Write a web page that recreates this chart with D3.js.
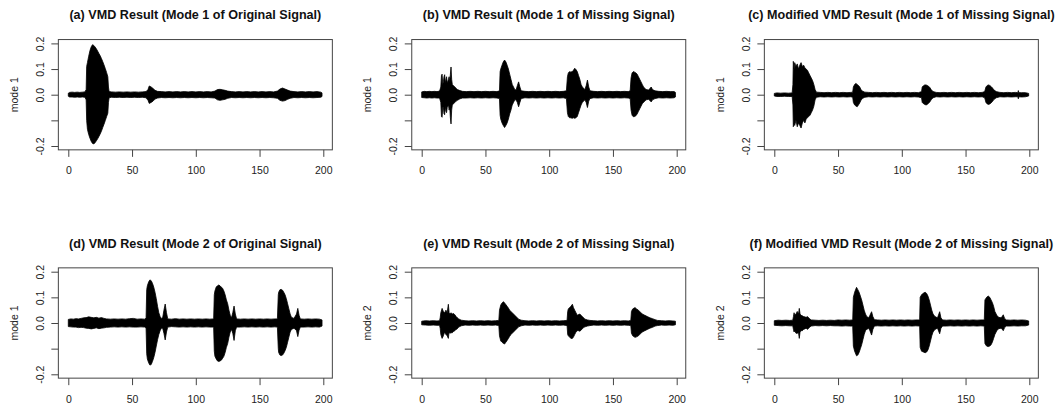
<!DOCTYPE html>
<html>
<head>
<meta charset="utf-8">
<script src="https://cdn.jsdelivr.net/npm/d3@7"></script>
<style>
  body { margin: 0; background: #fff; }
  text { font-family: "Liberation Sans", Arial, sans-serif; }
</style>
</head>
<body>
<div class="vmd-plot"></div>
<script>
const titles = [
  '(a) VMD Result (Mode 1 of Original Signal)',
  '(b) VMD Result (Mode 1 of Missing Signal)',
  '(c) Modified VMD Result (Mode 1 of Missing Signal)',
  '(d) VMD Result (Mode 2 of Original Signal)',
  '(e) VMD Result (Mode 2 of Missing Signal)',
  '(f) Modified VMD Result (Mode 2 of Missing Signal)'
];
const yLabels = ['mode 1', 'mode 1', 'mode 1', 'mode 1', 'mode 2', 'mode 2'];
const xTicks = [0, 50, 100, 150, 200];
const yTicks = [-0.2, -0.1, 0, 0.1, 0.2];
const yTickLabels = ['-0.2', '', '0.0', '0.1', '0.2'];

// envelope of each mode: [time, upper, lower]
const sigA = [[0,.006,-.006],[1,.009,-.009],[3,.010,-.009],[5,.009,-.010],[7,.010,-.009],[9,.009,-.010],[11,.010,-.009],[13,.011,-.010],[14,.02,-.02],[14.4,.11,-.10],[15,.125,-.135],[16,.15,-.155],[17,.172,-.17],[18,.187,-.182],[19,.195,-.19],[20,.192,-.192],[21,.186,-.187],[22,.179,-.18],[23,.17,-.172],[24,.161,-.163],[25,.152,-.153],[26,.141,-.142],[27,.129,-.128],[28,.116,-.115],[29,.102,-.101],[30,.087,-.086],[31,.07,-.072],[31.5,.03,-.03],[32,.012,-.012],[34,.011,-.010],[37,.010,-.011],[40,.011,-.010],[43,.010,-.011],[46,.011,-.010],[49,.010,-.011],[52,.011,-.010],[55,.010,-.011],[58,.011,-.010],[61,.012,-.012],[62.5,.02,-.022],[63.5,.034,-.034],[65,.03,-.03],[66.5,.024,-.025],[68,.017,-.017],[70,.013,-.013],[73,.012,-.011],[76,.011,-.012],[79,.012,-.011],[82,.011,-.012],[85,.012,-.011],[88,.011,-.012],[91,.012,-.011],[94,.011,-.012],[97,.012,-.011],[100,.011,-.012],[103,.012,-.011],[106,.011,-.012],[109,.012,-.011],[112,.011,-.012],[115,.014,-.013],[117,.02,-.02],[119,.021,-.022],[121,.019,-.02],[123,.017,-.018],[125,.014,-.014],[128,.012,-.011],[131,.011,-.012],[134,.012,-.011],[137,.011,-.012],[140,.012,-.011],[143,.011,-.012],[146,.012,-.011],[149,.011,-.012],[152,.012,-.011],[155,.011,-.012],[158,.012,-.011],[161,.011,-.012],[164,.014,-.014],[166,.022,-.022],[168,.026,-.025],[170,.022,-.023],[172,.018,-.018],[174,.014,-.014],[177,.012,-.011],[180,.011,-.012],[183,.012,-.011],[186,.011,-.012],[189,.012,-.011],[192,.011,-.012],[195,.012,-.011],[198,.010,-.010],[199,.007,-.007]];

const sigB = [[0,.011,-.011],[2,.013,-.012],[4,.012,-.013],[6,.013,-.012],[8,.012,-.013],[10,.013,-.012],[12,.012,-.013],[14,.014,-.013],[15,.03,-.03],[15.5,.075,-.085],[16,.08,-.088],[16.5,.04,-.05],[17,.05,-.05],[17.5,.07,-.075],[18,.078,-.078],[18.5,.045,-.045],[19,.06,-.065],[19.5,.07,-.07],[20,.045,-.05],[21,.06,-.04],[21.5,.07,-.06],[22,.05,-.05],[22.5,.08,-.09],[23,.108,-.114],[23.5,.06,-.06],[24,.04,-.04],[25,.035,-.035],[26,.03,-.03],[27,.025,-.025],[28,.02,-.022],[30,.016,-.016],[32,.013,-.013],[35,.012,-.013],[38,.013,-.012],[41,.012,-.013],[44,.013,-.012],[47,.012,-.013],[50,.013,-.012],[53,.012,-.013],[56,.013,-.012],[59,.012,-.013],[61,.015,-.015],[61.5,.09,-.08],[62,.10,-.095],[63,.115,-.11],[64,.128,-.12],[65,.135,-.128],[66,.128,-.12],[67,.115,-.11],[68,.10,-.095],[69,.08,-.075],[70,.06,-.06],[71,.04,-.04],[72,.03,-.03],[73,.02,-.02],[74,.018,-.02],[75,.035,-.03],[76,.05,-.047],[77,.03,-.03],[78,.015,-.015],[81,.013,-.012],[84,.012,-.013],[87,.013,-.012],[90,.012,-.013],[93,.013,-.012],[96,.012,-.013],[99,.013,-.012],[102,.012,-.013],[105,.013,-.012],[108,.012,-.013],[111,.013,-.012],[113.5,.015,-.015],[114.3,.07,-.07],[115,.085,-.085],[116,.09,-.09],[117,.088,-.09],[118,.09,-.092],[119,.095,-.09],[120,.103,-.092],[121,.098,-.09],[122,.09,-.085],[123,.075,-.07],[124,.06,-.055],[125,.04,-.04],[126,.03,-.03],[127,.025,-.025],[128,.02,-.02],[129,.035,-.03],[130,.057,-.05],[131,.03,-.025],[132,.015,-.015],[135,.013,-.012],[138,.012,-.013],[141,.013,-.012],[144,.012,-.013],[147,.013,-.012],[150,.012,-.013],[153,.013,-.012],[156,.012,-.013],[159,.013,-.012],[162,.012,-.013],[163.5,.015,-.015],[164.2,.065,-.06],[165,.085,-.08],[166,.09,-.086],[167,.088,-.085],[168,.085,-.082],[169,.08,-.075],[170,.07,-.065],[171,.06,-.055],[172,.05,-.045],[173,.04,-.035],[174,.03,-.03],[175,.025,-.025],[176,.02,-.02],[178,.018,-.018],[180,.03,-.028],[181,.02,-.02],[183,.015,-.015],[186,.013,-.012],[189,.012,-.013],[192,.013,-.012],[195,.012,-.013],[198,.012,-.012],[199,.009,-.009]];

const sigC = [[0,.005,-.005],[2,.007,-.007],[5,.006,-.007],[8,.007,-.006],[11,.006,-.007],[14,.007,-.007],[14.6,.04,-.04],[14.9,.13,-.125],[15.5,.1,-.11],[16,.125,-.12],[17,.11,-.10],[18,.12,-.125],[19,.10,-.11],[20,.115,-.12],[21,.125,-.13],[22,.11,-.11],[23,.115,-.10],[24,.105,-.11],[25,.10,-.095],[26,.095,-.09],[27,.085,-.085],[28,.075,-.08],[29,.065,-.07],[30,.055,-.06],[31,.04,-.045],[32,.02,-.02],[33,.01,-.01],[36,.009,-.008],[39,.008,-.009],[42,.009,-.008],[45,.008,-.009],[48,.009,-.008],[51,.008,-.009],[54,.009,-.008],[57,.008,-.009],[60,.009,-.008],[61.5,.01,-.01],[62,.03,-.03],[63,.04,-.04],[64,.044,-.044],[65,.04,-.047],[66,.036,-.04],[67,.03,-.032],[68,.02,-.022],[69,.014,-.015],[71,.01,-.01],[74,.009,-.008],[77,.008,-.009],[80,.009,-.008],[83,.008,-.009],[86,.009,-.008],[89,.008,-.009],[92,.009,-.008],[95,.008,-.009],[98,.009,-.008],[101,.008,-.009],[104,.009,-.008],[107,.008,-.009],[110,.009,-.008],[113,.008,-.009],[115.5,.012,-.012],[116,.03,-.03],[117,.035,-.035],[118,.038,-.038],[119,.038,-.04],[120,.036,-.038],[121,.033,-.033],[122,.028,-.028],[123,.02,-.02],[124.5,.012,-.012],[127,.009,-.008],[130,.008,-.009],[133,.009,-.008],[136,.008,-.009],[139,.009,-.008],[142,.008,-.009],[145,.009,-.008],[148,.008,-.009],[151,.009,-.008],[154,.008,-.009],[157,.009,-.008],[160,.008,-.009],[163,.009,-.008],[165,.012,-.012],[166,.03,-.03],[167,.036,-.036],[168,.038,-.038],[169,.036,-.036],[170,.032,-.032],[171,.027,-.027],[172,.02,-.02],[174,.012,-.012],[177,.009,-.008],[180,.008,-.009],[183,.009,-.008],[186,.008,-.009],[189,.009,-.008],[191,.008,-.008],[191.4,.016,-.016],[191.8,.008,-.008],[194,.008,-.009],[197,.008,-.008],[199.5,.005,-.005]];

const sigD = [[0,.014,-.014],[2,.016,-.015],[4,.015,-.016],[6,.017,-.016],[8,.016,-.018],[10,.018,-.017],[12,.02,-.018],[14,.021,-.02],[16,.024,-.021],[18,.022,-.023],[20,.02,-.021],[22,.022,-.019],[24,.019,-.022],[26,.021,-.02],[28,.018,-.019],[30,.016,-.017],[33,.015,-.016],[36,.016,-.015],[39,.015,-.016],[42,.016,-.015],[45,.015,-.016],[48,.017,-.015],[51,.018,-.016],[54,.015,-.016],[57,.016,-.015],[60,.015,-.016],[61,.02,-.02],[61.5,.13,-.12],[62,.145,-.14],[63,.16,-.155],[64,.168,-.164],[65,.165,-.162],[66,.155,-.15],[67,.14,-.135],[68,.12,-.115],[69,.095,-.09],[70,.065,-.065],[71,.04,-.045],[72,.025,-.03],[73,.018,-.02],[74,.02,-.02],[75,.05,-.04],[76,.074,-.066],[77,.04,-.035],[78,.016,-.016],[81,.015,-.014],[84,.017,-.015],[87,.015,-.016],[90,.016,-.015],[93,.015,-.016],[96,.016,-.015],[99,.015,-.016],[102,.016,-.015],[105,.015,-.016],[108,.016,-.015],[111,.015,-.016],[114,.016,-.016],[114.5,.11,-.11],[115,.125,-.13],[116,.14,-.14],[117,.145,-.148],[118,.148,-.15],[119,.145,-.148],[120,.14,-.145],[121,.135,-.138],[122,.125,-.13],[123,.11,-.115],[124,.09,-.095],[125,.075,-.08],[126,.05,-.055],[127,.03,-.035],[128,.02,-.025],[129,.04,-.04],[130,.066,-.068],[131,.035,-.03],[132,.016,-.016],[135,.015,-.016],[138,.016,-.015],[141,.015,-.016],[144,.016,-.015],[147,.015,-.016],[150,.016,-.015],[153,.015,-.016],[156,.016,-.015],[159,.015,-.016],[162,.016,-.015],[164,.016,-.016],[164.7,.11,-.10],[165,.12,-.115],[166,.13,-.125],[167,.131,-.127],[168,.128,-.125],[169,.12,-.118],[170,.11,-.108],[171,.095,-.095],[172,.075,-.075],[173,.055,-.055],[174,.035,-.035],[175,.022,-.025],[177,.018,-.02],[179,.035,-.03],[180,.057,-.053],[181,.03,-.028],[182,.016,-.016],[185,.015,-.016],[188,.016,-.015],[191,.015,-.016],[194,.016,-.015],[197,.015,-.016],[199,.012,-.012]];

const sigE = [[0,.007,-.007],[3,.009,-.008],[6,.008,-.009],[9,.009,-.008],[12,.008,-.009],[14,.009,-.009],[14.5,.02,-.02],[15,.04,-.045],[16,.057,-.06],[17,.045,-.05],[18,.04,-.035],[19,.05,-.045],[20,.04,-.05],[20.9,.073,-.06],[21.5,.04,-.035],[22,.035,-.04],[23,.04,-.038],[24,.035,-.038],[25,.037,-.033],[26,.032,-.03],[27,.025,-.025],[28,.02,-.022],[29,.016,-.016],[31,.011,-.011],[34,.009,-.008],[37,.008,-.009],[40,.009,-.008],[43,.008,-.009],[46,.009,-.008],[49,.008,-.009],[52,.009,-.008],[55,.008,-.009],[58,.009,-.008],[60.5,.01,-.01],[61,.05,-.05],[62,.07,-.07],[63,.078,-.075],[64.2,.083,-.08],[65,.078,-.082],[66,.072,-.075],[67,.065,-.068],[68,.058,-.06],[69,.05,-.052],[70,.045,-.045],[71,.04,-.04],[72,.035,-.035],[73,.03,-.03],[74,.025,-.025],[75,.02,-.02],[76,.015,-.015],[78,.011,-.011],[81,.009,-.008],[84,.008,-.009],[87,.009,-.008],[90,.008,-.009],[93,.009,-.008],[96,.008,-.009],[99,.009,-.008],[102,.008,-.009],[105,.009,-.008],[108,.008,-.009],[111,.009,-.008],[114,.01,-.01],[114.5,.045,-.045],[115,.055,-.05],[116,.06,-.055],[117,.065,-.06],[118.2,.073,-.06],[119,.06,-.055],[120,.05,-.045],[121,.04,-.035],[122,.03,-.03],[123,.033,-.03],[124,.035,-.032],[125,.03,-.028],[126,.025,-.022],[127,.02,-.018],[128,.015,-.015],[130,.012,-.012],[132,.01,-.01],[135,.009,-.008],[138,.008,-.009],[141,.009,-.008],[144,.008,-.009],[147,.009,-.008],[150,.008,-.009],[153,.009,-.008],[156,.008,-.009],[159,.009,-.008],[162,.008,-.009],[164,.01,-.01],[164.5,.045,-.04],[165.5,.055,-.05],[167.3,.06,-.056],[168.5,.055,-.054],[170,.05,-.05],[171,.045,-.045],[172,.04,-.04],[173,.035,-.035],[175,.03,-.03],[177,.025,-.025],[179,.02,-.02],[181,.017,-.017],[183,.013,-.012],[185,.01,-.01],[188,.009,-.008],[191,.008,-.009],[194,.009,-.008],[197,.008,-.009],[199,.007,-.007]];

const sigF = [[0,.009,-.009],[3,.011,-.01],[6,.01,-.011],[9,.011,-.01],[12,.01,-.011],[14.5,.011,-.011],[15,.025,-.025],[15.5,.04,-.035],[16,.03,-.03],[17,.035,-.04],[18,.045,-.04],[19,.035,-.038],[19.6,.057,-.06],[20.2,.035,-.035],[21,.03,-.03],[22,.028,-.03],[23,.025,-.025],[25,.022,-.02],[26,.025,-.025],[27,.02,-.02],[28,.015,-.015],[29,.012,-.012],[32,.011,-.01],[35,.01,-.011],[38,.011,-.01],[41,.01,-.011],[44,.011,-.01],[47,.01,-.011],[50,.012,-.011],[53,.011,-.012],[56,.012,-.011],[59,.011,-.012],[61.5,.012,-.012],[62,.1,-.09],[63,.12,-.11],[64.5,.139,-.128],[65.5,.13,-.125],[66.5,.12,-.115],[67.5,.105,-.10],[68.5,.09,-.085],[69.5,.07,-.065],[70.5,.05,-.045],[71.5,.035,-.03],[72.5,.025,-.025],[74,.02,-.02],[75,.03,-.03],[76.3,.044,-.047],[77.3,.025,-.025],[78.5,.013,-.012],[81,.012,-.011],[84,.011,-.012],[87,.012,-.011],[90,.011,-.012],[93,.012,-.011],[96,.011,-.012],[99,.012,-.011],[102,.011,-.012],[105,.012,-.011],[108,.011,-.012],[111,.012,-.011],[114,.012,-.012],[114.4,.1,-.095],[115.5,.11,-.11],[116.5,.115,-.112],[118.3,.12,-.116],[119.5,.115,-.113],[120.5,.105,-.105],[121.5,.09,-.09],[122.5,.07,-.07],[123.5,.05,-.05],[124.5,.035,-.035],[126,.025,-.025],[128,.02,-.02],[129.7,.044,-.042],[130.7,.02,-.02],[132,.012,-.012],[135,.011,-.012],[138,.012,-.011],[141,.011,-.012],[144,.012,-.011],[147,.011,-.012],[150,.012,-.011],[153,.011,-.012],[156,.012,-.011],[159,.011,-.012],[162,.012,-.011],[164.7,.012,-.012],[165.2,.09,-.08],[166.5,.1,-.09],[167.8,.105,-.092],[169,.1,-.09],[170,.09,-.085],[171,.08,-.075],[172,.065,-.06],[173,.045,-.045],[174.5,.03,-.03],[176,.022,-.022],[178,.02,-.02],[179.6,.032,-.03],[180.6,.018,-.018],[182,.012,-.012],[185,.011,-.012],[188,.012,-.011],[191,.011,-.012],[194,.012,-.011],[197,.011,-.011],[199.5,.008,-.008]];

const signals = [sigA, sigB, sigC, sigD, sigE, sigF];

const width = 1060;
const height = 409;
const svg = d3.select('.vmd-plot')
  .append('svg')
  .attr('width', width)
  .attr('height', height);

const colZero = [68.3, 421.7, 774.3]; // pixel of t = 0 in each column
const rowZero = [94.7, 323];          // pixel of value 0 in each row

signals.forEach((sig, i) => {
  const col = i % 3;
  const row = Math.floor(i / 3);
  const x = d3.scaleLinear().domain([0, 200]).range([colZero[col], colZero[col] + 255]);
  const y = d3.scaleLinear().domain([-0.2, 0.2]).range([rowZero[row] + 51.3, rowZero[row] - 51.3]);
  const g = svg.append('g');

  // plot frame
  const bx0 = x(-7.8), bx1 = x(207.1), by0 = y(0.215), by1 = y(-0.215);
  g.append('rect')
    .attr('x', bx0).attr('y', by0)
    .attr('width', bx1 - bx0).attr('height', by1 - by0)
    .attr('fill', 'none')
    .attr('stroke', '#444')
    .attr('stroke-width', 1);

  // the waveform
  const area = d3.area()
    .x(d => x(d[0]))
    .y0(d => y(d[2]))
    .y1(d => y(d[1]));
  g.append('path')
    .datum(sig)
    .attr('d', area)
    .attr('fill', '#000')
    .attr('stroke', '#000')
    .attr('stroke-width', 0.8)
    .attr('stroke-linejoin', 'round');

  // x axis
  const xAxis = g.append('g')
    .attr('transform', `translate(0,${by1})`)
    .call(d3.axisBottom(x).tickValues(xTicks).tickSize(7).tickPadding(10));
  xAxis.select('.domain').remove();

  // y axis, labels turned like R
  const yAxis = g.append('g')
    .attr('transform', `translate(${bx0},0)`)
    .call(d3.axisLeft(y).tickValues(yTicks).tickSize(7)
      .tickFormat((d, j) => yTickLabels[j]));
  yAxis.select('.domain').remove();
  yAxis.selectAll('text')
    .attr('x', 0)
    .attr('dy', null)
    .attr('y', -14.5)
    .attr('transform', 'rotate(-90)')
    .style('text-anchor', 'middle');

  svg.selectAll('.tick line').attr('stroke', '#444');
  svg.selectAll('.tick text')
    .attr('fill', '#222')
    .style('font-size', '10.5px')
    .style('font-family', '"Liberation Sans", Arial, sans-serif');

  g.append('text')
    .text(yLabels[i])
    .attr('transform', `translate(${bx0 - 40.5},${rowZero[row]}) rotate(-90)`)
    .attr('text-anchor', 'middle')
    .attr('font-size', '10.5px')
    .attr('fill', '#222');

  g.append('text')
    .text(titles[i])
    .attr('x', (bx0 + bx1) / 2)
    .attr('y', rowZero[row] - 75.5)
    .attr('text-anchor', 'middle')
    .attr('font-size', '12.6px')
    .attr('font-weight', 'bold')
    .attr('fill', '#111');
});
</script>
</body>
</html>
